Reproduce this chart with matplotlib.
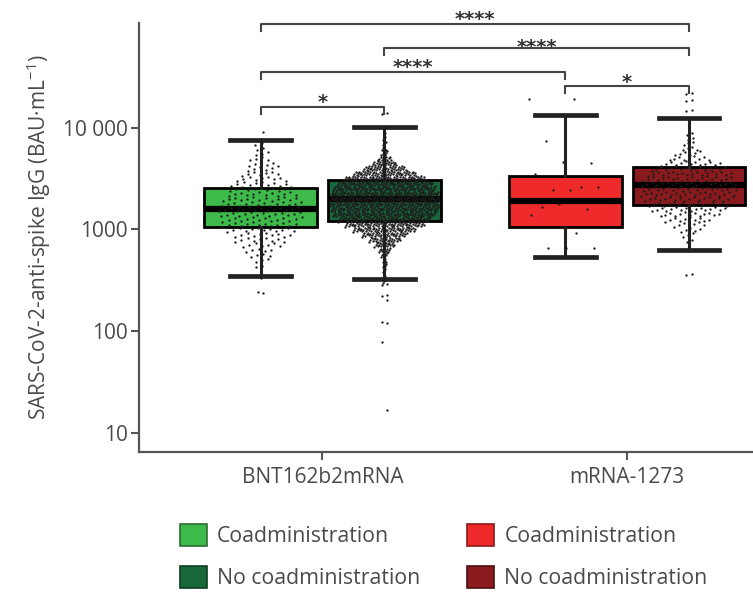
import numpy as np
import matplotlib.pyplot as plt
from matplotlib.patches import Patch

plt.rcParams['font.family'] = ['Open Sans', 'DejaVu Sans']
plt.rcParams['mathtext.fontset'] = 'custom'
plt.rcParams['mathtext.rm'] = 'Open Sans'

vaccines = ['BNT162b2mRNA', 'mRNA-1273']
groups = ['Coadministration', 'No coadministration']
colors = ['#3dba4a', '#17683a', '#ee2a2a', '#8a1a1d']
edges = ['#2a6e32', '#0e3f22', '#8c1a1a', '#4e0e10']

# box stats (BAU/mL) for: BNT coadmin, BNT no coadmin, mRNA-1273 coadmin, mRNA-1273 no coadmin
q1 = [1059, 1213, 1066, 1729]
med = [1581, 1967, 1910, 2742]
q3 = [2547, 3055, 3365, 4064]
whislo = [348, 327, 540, 628]
whishi = [7570, 10070, 13430, 12460]

# dense point clouds as counts per log10 bin (bin width 0.05), first bin centre given
bnt_co_start = 2.55
bnt_co_counts = [1, 1, 2, 3, 4, 5, 7, 9, 10, 12, 13, 14, 14, 14, 14, 13, 12, 11,
                 10, 9, 7, 6, 5, 4, 3, 2, 2, 1]
bnt_no_start = 2.50
bnt_no_counts = [2, 2, 3, 3, 4, 6, 11, 18, 28, 40, 55, 70, 82, 90, 95, 96, 96, 95,
                 90, 84, 72, 56, 38, 22, 12, 6, 4, 3, 3, 2, 2]
m1273_no_start = 2.85
m1273_no_counts = [1, 2, 3, 5, 7, 10, 13, 16, 18, 19, 20, 20, 20, 19, 18, 16, 13,
                   9, 6, 4, 3, 2, 2, 1]

# sparse groups / outliers as single values (BAU/mL)
m1273_co_values = [19300, 18900, 7380, 4490, 4560, 3480, 2580, 2420, 2580, 2420,
                   1660, 1570, 1770, 1380, 920, 660, 650, 660]
bnt_co_out = [9130, 244, 236]
bnt_no_out = [13800, 13500, 288, 282, 225, 220, 202, 124, 120, 78, 17]
m1273_no_out = [22000, 21500, 18800, 18400, 14900, 14600, 362, 355]

# significance brackets: (box i, box j), height, label
sig_pairs = [(0, 3), (1, 3), (0, 2), (2, 3), (0, 1)]
sig_heights = [104500, 60700, 35300, 25500, 16100]
sig_labels = ['****', '****', '****', '*', '*']

positions = [0.797, 1.203, 1.797, 2.203]

fig = plt.figure(figsize=(7.53, 5.93), dpi=100)
ax = fig.add_axes([139 / 753, 141 / 593, 614 / 753, 429 / 593])

stats = []
for k in range(4):
    stats.append(dict(med=med[k], q1=q1[k], q3=q3[k], whislo=whislo[k],
                      whishi=whishi[k], fliers=[]))
bp = ax.bxp(stats, positions=positions, widths=0.37, capwidths=0.2,
            patch_artist=True, showfliers=False,
            boxprops=dict(linewidth=2.0, edgecolor='black'),
            medianprops=dict(color='black', linewidth=4.5),
            whiskerprops=dict(color='#222222', linewidth=2.2),
            capprops=dict(color='#222222', linewidth=3.4))
for patch, col in zip(bp['boxes'], colors):
    patch.set_facecolor(col)


def cloud(start, counts, half):
    xs, ys = [], []
    peak = max(counts)
    for k, n in enumerate(counts):
        v = start + 0.05 * k
        if n == 1:
            offs = np.array([0.0])
        else:
            w = half * n / peak
            step = 2 * w / n
            offs = np.linspace(-w + step / 2, w - step / 2, n)
            offs = offs + ((k * 0.618) % 1 - 0.5) * step * 0.8
        dy = ((np.arange(len(offs)) * 0.382) % 1 - 0.5) * 0.045
        xs.extend(offs)
        ys.extend(10 ** (v + dy))
    return np.array(xs), np.array(ys)


def singles(values, spread):
    vals = np.array(values, dtype=float)
    offs = (((np.arange(len(vals)) * 0.618) % 1) - 0.5) * 2 * spread
    return offs, vals


dot = dict(s=2.8, color='#1c1c1c', linewidths=0, zorder=4)

clouds = [(0, cloud(bnt_co_start, bnt_co_counts, 0.14)),
          (1, cloud(bnt_no_start, bnt_no_counts, 0.18)),
          (2, singles(m1273_co_values, 0.12)),
          (3, cloud(m1273_no_start, m1273_no_counts, 0.16))]
for k, (xo, yv) in clouds:
    ax.scatter(positions[k] + xo, yv, **dot)

for k, out in enumerate([bnt_co_out, bnt_no_out, None, m1273_no_out]):
    if out is None:
        continue
    xo = np.array([(-1) ** i * 0.009 for i in range(len(out))])
    ax.scatter(positions[k] + xo, out, **dot)

ax.set_yscale('log')
ax.set_ylim(6.51, 106500)
ax.set_xlim(0.398, 2.413)
ax.set_yticks([10, 100, 1000, 10000])
ax.set_yticklabels(['10', '100', '1000', '10 000'])
ax.minorticks_off()
ax.set_xticks([1, 2])
ax.set_xticklabels(vaccines)
ax.tick_params(axis='both', colors='#555555', labelcolor='#4a4a4a',
               labelsize=15, length=6, width=1.5)
ax.tick_params(axis='x', pad=5)
ax.tick_params(axis='y', pad=2)
for s in ['top', 'right']:
    ax.spines[s].set_visible(False)
for s in ['left', 'bottom']:
    ax.spines[s].set_color('#555555')
    ax.spines[s].set_linewidth(1.6)
ax.set_ylabel('SARS-CoV-2-anti-spike IgG (BAU\u00b7mL$^{\u22121}$)', fontsize=15,
              color='#4a4a4a', labelpad=7)

# significance brackets
star_off = [-1, -4, -1, -1, -1]
for (i, j), h, lab, so in zip(sig_pairs, sig_heights, sig_labels, star_off):
    drop = h * 10 ** -0.07
    ax.plot([positions[i], positions[i], positions[j], positions[j]],
            [drop, h, h, drop], color='#444444', linewidth=1.5, clip_on=False,
            zorder=5)
    ax.annotate(lab, xy=((positions[i] + positions[j]) / 2, h),
                xytext=(0, so), textcoords='offset points', ha='center',
                va='baseline', fontsize=14, fontweight='bold', color='#333333',
                family='DejaVu Sans', annotation_clip=False)

handles = [Patch(facecolor=c, edgecolor=e, linewidth=1.2)
           for c, e in zip(colors, edges)]
fig.legend(handles, groups + groups, loc='upper left', ncol=2,
           bbox_to_anchor=(180 / 753, 1 - 524 / 593), frameon=False,
           fontsize=15.3, handlelength=1.25, handleheight=1.25,
           handletextpad=0.5, labelspacing=0.87, columnspacing=2.2,
           borderpad=0, borderaxespad=0, labelcolor='#4a4a4a')

fig.savefig('out.png', dpi=100)
